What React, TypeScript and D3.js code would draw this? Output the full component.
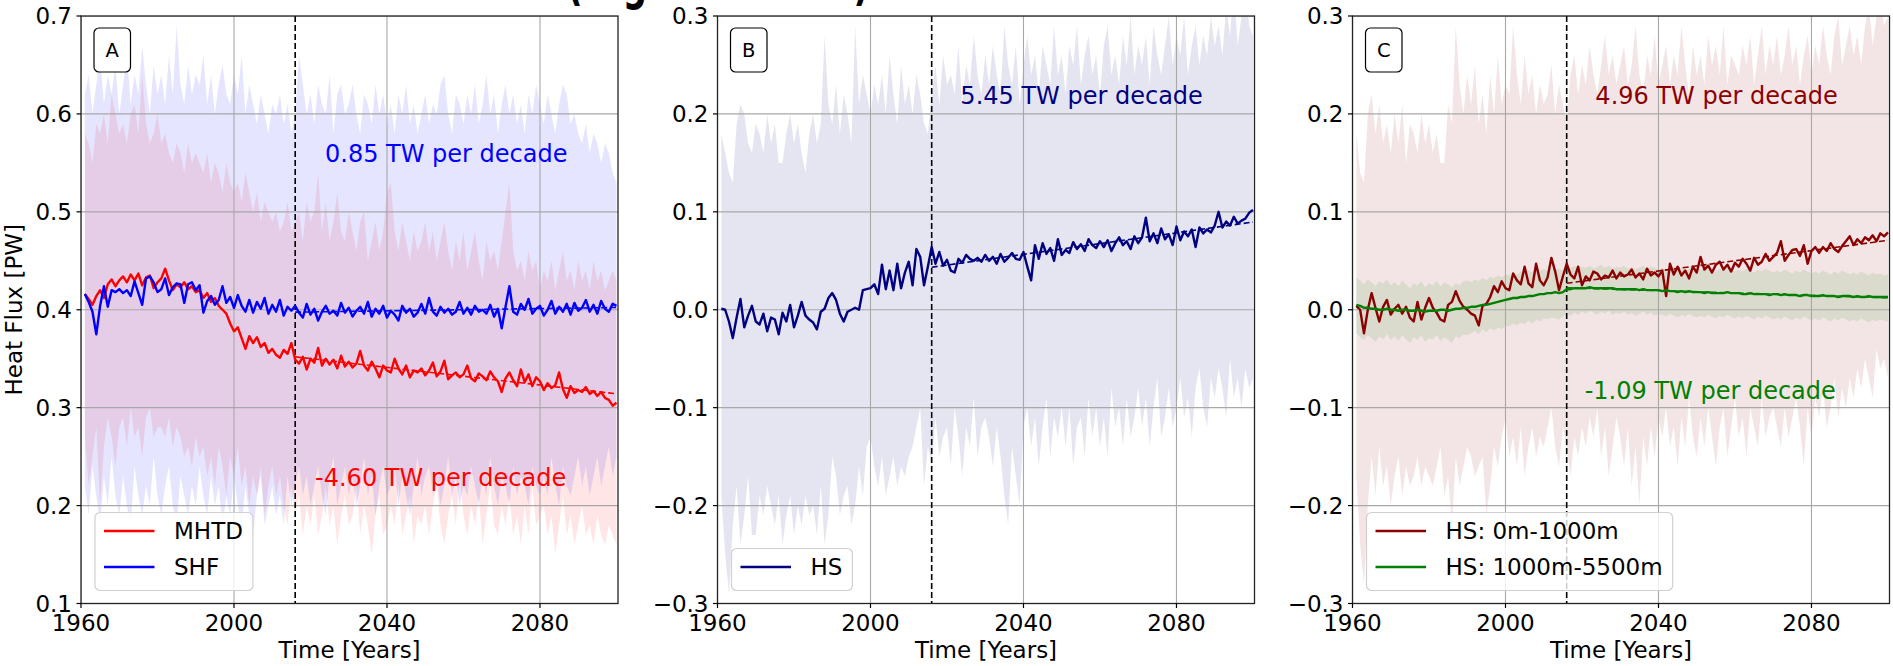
import React from 'react';
import * as d3 from 'd3';

// ---------------- DATA ----------------
const FIRST_YEAR = 1961;
const LAST_YEAR = 2100;
const SPLIT_YEAR = 2016;
const X_DOMAIN = [1960, 2100.4];
const xTicks = [1960, 2000, 2040, 2080];
const yTicksA = [0.1, 0.2, 0.3, 0.4, 0.5, 0.6, 0.7];
const yTicksBC = [-0.3, -0.2, -0.1, 0, 0.1, 0.2, 0.3];

const mhtd = [
  0.416, 0.411, 0.405, 0.414, 0.420, 0.412, 0.426, 0.431, 0.424, 0.430,
  0.434, 0.428, 0.436, 0.430, 0.437, 0.425, 0.433, 0.435, 0.422, 0.428,
  0.432, 0.442, 0.430, 0.420, 0.426, 0.423, 0.428, 0.421, 0.424, 0.418,
  0.420, 0.412, 0.417, 0.408, 0.412, 0.404, 0.400, 0.396, 0.386, 0.378,
  0.382, 0.371, 0.360, 0.373, 0.366, 0.372, 0.362, 0.366, 0.356, 0.360,
  0.354, 0.351, 0.359, 0.355, 0.366, 0.349, 0.345, 0.352, 0.339, 0.350,
  0.346, 0.361, 0.343, 0.350, 0.344, 0.349, 0.340, 0.353, 0.342, 0.347,
  0.341, 0.345, 0.358, 0.343, 0.338, 0.347, 0.340, 0.331, 0.343, 0.338,
  0.336, 0.350, 0.340, 0.334, 0.343, 0.331, 0.338, 0.336, 0.340, 0.333,
  0.338, 0.346, 0.332, 0.337, 0.348, 0.329, 0.333, 0.336, 0.331, 0.334,
  0.343, 0.330, 0.327, 0.335, 0.332, 0.328, 0.337, 0.331, 0.327, 0.316,
  0.330, 0.336, 0.328, 0.322, 0.339, 0.326, 0.334, 0.322, 0.331, 0.327,
  0.318, 0.325, 0.320, 0.323, 0.336, 0.319, 0.310, 0.322, 0.315, 0.318,
  0.316, 0.321, 0.314, 0.317, 0.312, 0.316, 0.310, 0.308, 0.302, 0.305,
];
const mhtdHi = [
  0.58, 0.57, 0.55, 0.59, 0.58, 0.60, 0.57, 0.62, 0.60, 0.58,
  0.59, 0.57, 0.60, 0.61, 0.58, 0.64, 0.59, 0.57, 0.58, 0.60,
  0.57, 0.58, 0.56, 0.55, 0.57, 0.56, 0.54, 0.57, 0.55, 0.56,
  0.55, 0.54, 0.56, 0.53, 0.55, 0.54, 0.52, 0.55, 0.53, 0.52,
  0.53, 0.51, 0.54, 0.52, 0.50, 0.52, 0.49, 0.51, 0.50, 0.49,
  0.50, 0.48, 0.49, 0.51, 0.48, 0.49, 0.50, 0.47, 0.51, 0.49,
  0.50, 0.54, 0.48, 0.51, 0.47, 0.49, 0.52, 0.48, 0.47, 0.50,
  0.48, 0.46, 0.49, 0.50, 0.45, 0.47, 0.49, 0.46, 0.48, 0.52,
  0.53, 0.48, 0.46, 0.49, 0.47, 0.45, 0.48, 0.46, 0.47, 0.49,
  0.46, 0.48, 0.45, 0.47, 0.49, 0.46, 0.44, 0.47, 0.45, 0.48,
  0.44, 0.46, 0.48, 0.45, 0.43, 0.47, 0.45, 0.46, 0.44, 0.47,
  0.50, 0.53, 0.46, 0.44, 0.45, 0.43, 0.46, 0.44, 0.45, 0.42,
  0.44, 0.43, 0.45, 0.42, 0.44, 0.46, 0.43, 0.44, 0.42, 0.45,
  0.43, 0.44, 0.42, 0.45, 0.43, 0.44, 0.42, 0.43, 0.44, 0.43,
];
const mhtdLo = [
  0.27, 0.22, 0.25, 0.28, 0.20, 0.26, 0.29, 0.27, 0.24, 0.28,
  0.29, 0.26, 0.30, 0.27, 0.28, 0.25, 0.29, 0.30, 0.27, 0.28,
  0.28, 0.27, 0.29, 0.26, 0.28, 0.27, 0.25, 0.26, 0.24, 0.27,
  0.25, 0.26, 0.23, 0.25, 0.22, 0.26, 0.24, 0.21, 0.25, 0.23,
  0.26, 0.22, 0.24, 0.20, 0.23, 0.21, 0.24, 0.19, 0.22, 0.24,
  0.21, 0.23, 0.20, 0.18, 0.22, 0.19, 0.21, 0.17, 0.20, 0.18,
  0.21, 0.17, 0.19, 0.22, 0.18, 0.20, 0.16, 0.19, 0.21, 0.18,
  0.19, 0.22, 0.17, 0.20, 0.18, 0.15, 0.19, 0.21, 0.17, 0.18,
  0.20, 0.18, 0.22, 0.17, 0.19, 0.21, 0.16, 0.19, 0.18, 0.20,
  0.17, 0.20, 0.22, 0.18, 0.16, 0.19, 0.21, 0.18, 0.23, 0.19,
  0.17, 0.20, 0.18, 0.21, 0.16, 0.19, 0.22, 0.18, 0.17, 0.20,
  0.18, 0.21, 0.17, 0.19, 0.16, 0.20, 0.17, 0.22, 0.18, 0.19,
  0.20, 0.17, 0.19, 0.15, 0.18, 0.21, 0.17, 0.19, 0.16, 0.18,
  0.20, 0.17, 0.18, 0.16, 0.19, 0.17, 0.16, 0.18, 0.17, 0.16,
];

const shf = [
  0.416, 0.408, 0.398, 0.375, 0.404, 0.424, 0.403, 0.420, 0.418, 0.421,
  0.417, 0.420, 0.414, 0.429, 0.417, 0.405, 0.432, 0.434, 0.428, 0.418,
  0.421, 0.432, 0.415, 0.423, 0.427, 0.426, 0.407, 0.426, 0.428, 0.420,
  0.425, 0.397, 0.409, 0.414, 0.405, 0.410, 0.424, 0.407, 0.413, 0.402,
  0.415, 0.404, 0.398, 0.410, 0.397, 0.408, 0.401, 0.412, 0.396, 0.405,
  0.398, 0.410, 0.394, 0.403, 0.399, 0.404, 0.397, 0.392, 0.406, 0.395,
  0.401, 0.389, 0.398, 0.404, 0.396, 0.399, 0.394, 0.407, 0.397, 0.402,
  0.393, 0.399, 0.403, 0.396, 0.408, 0.393, 0.401, 0.396, 0.404, 0.392,
  0.399, 0.395, 0.389, 0.404, 0.397, 0.401, 0.393, 0.397, 0.406, 0.396,
  0.412, 0.398, 0.394, 0.403, 0.397, 0.401, 0.395, 0.398, 0.408, 0.396,
  0.402, 0.395, 0.404, 0.398, 0.400, 0.396, 0.405, 0.393, 0.401, 0.381,
  0.403, 0.424, 0.398, 0.395, 0.406, 0.400, 0.411, 0.396, 0.401, 0.404,
  0.394, 0.400, 0.409, 0.396, 0.403, 0.398, 0.406, 0.395, 0.407, 0.399,
  0.402, 0.410, 0.398, 0.405, 0.396, 0.409, 0.401, 0.398, 0.406, 0.404,
];
const shfHi = [
  0.62, 0.64, 0.60, 0.63, 0.66, 0.61, 0.64, 0.62, 0.65, 0.60,
  0.63, 0.66, 0.61, 0.64, 0.62, 0.67, 0.63, 0.60, 0.65, 0.62,
  0.64, 0.61, 0.66, 0.62, 0.69, 0.63, 0.61, 0.65, 0.62, 0.64,
  0.63, 0.66, 0.61, 0.64, 0.60, 0.63, 0.65, 0.62, 0.61, 0.64,
  0.62, 0.66, 0.60, 0.63, 0.61, 0.59, 0.62, 0.60, 0.58, 0.61,
  0.60, 0.62, 0.59, 0.61, 0.58, 0.60, 0.66, 0.63, 0.60, 0.62,
  0.59, 0.63, 0.61, 0.60, 0.64, 0.58, 0.62, 0.63, 0.60, 0.61,
  0.63, 0.60, 0.58, 0.62, 0.61, 0.59, 0.63, 0.60, 0.62, 0.59,
  0.61, 0.58, 0.62, 0.60, 0.63, 0.59, 0.61, 0.58, 0.60, 0.62,
  0.59, 0.61, 0.60, 0.63, 0.64, 0.60, 0.58, 0.62, 0.61, 0.59,
  0.62, 0.60, 0.63, 0.59, 0.61, 0.64, 0.60, 0.62, 0.58, 0.61,
  0.63, 0.60, 0.62, 0.59, 0.61, 0.58, 0.62, 0.60, 0.63, 0.61,
  0.59, 0.62, 0.60, 0.58, 0.61, 0.63, 0.62, 0.59, 0.60, 0.58,
  0.57, 0.59, 0.56, 0.58, 0.57, 0.55, 0.57, 0.56, 0.54, 0.53,
];
const shfLo = [
  0.22, 0.19, 0.24, 0.21, 0.18, 0.23, 0.20, 0.25, 0.21, 0.19,
  0.23, 0.20, 0.18, 0.24, 0.21, 0.19, 0.22, 0.20, 0.25, 0.21,
  0.19, 0.22, 0.24, 0.20, 0.18, 0.23, 0.21, 0.19, 0.22, 0.20,
  0.24, 0.21, 0.19, 0.23, 0.20, 0.22, 0.18, 0.21, 0.19, 0.23,
  0.20, 0.18, 0.22, 0.19, 0.17, 0.21, 0.23, 0.18, 0.20, 0.22,
  0.19, 0.21, 0.18, 0.23, 0.20, 0.22, 0.24, 0.21, 0.23, 0.20,
  0.22, 0.24, 0.21, 0.19, 0.23, 0.25, 0.20, 0.22, 0.24, 0.21,
  0.23, 0.20, 0.22, 0.25, 0.21, 0.23, 0.19, 0.22, 0.24, 0.21,
  0.22, 0.24, 0.20, 0.23, 0.21, 0.19, 0.22, 0.25, 0.21, 0.23,
  0.24, 0.21, 0.23, 0.20, 0.22, 0.25, 0.21, 0.23, 0.20, 0.22,
  0.21, 0.24, 0.22, 0.20, 0.23, 0.21, 0.25, 0.22, 0.20, 0.23,
  0.22, 0.20, 0.24, 0.21, 0.23, 0.22, 0.20, 0.24, 0.22, 0.21,
  0.23, 0.21, 0.25, 0.22, 0.20, 0.24, 0.22, 0.21, 0.23, 0.25,
  0.22, 0.24, 0.21, 0.23, 0.25, 0.22, 0.24, 0.26, 0.23, 0.25,
];

const hs = [
  0.001, 0.000, -0.012, -0.029, -0.008, 0.011, -0.018, -0.006, 0.004, -0.012,
  -0.015, -0.004, -0.022, -0.008, -0.010, -0.025, -0.003, -0.012, 0.005, -0.018,
  -0.006, 0.008, -0.006, -0.010, -0.013, -0.020, -0.002, 0.001, 0.012, 0.017,
  0.010, -0.004, -0.012, -0.002, 0.000, 0.002, 0.000, 0.020, 0.021, 0.022,
  0.026, 0.016, 0.046, 0.021, 0.040, 0.020, 0.047, 0.022, 0.038, 0.049,
  0.025, 0.062, 0.054, 0.025, 0.044, 0.064, 0.047, 0.059, 0.045, 0.051,
  0.040, 0.038, 0.052, 0.048, 0.056, 0.052, 0.050, 0.053, 0.049, 0.056,
  0.050, 0.054, 0.047, 0.057, 0.049, 0.053, 0.058, 0.052, 0.051, 0.059,
  0.044, 0.030, 0.066, 0.052, 0.068, 0.057, 0.063, 0.050, 0.072, 0.056,
  0.061, 0.058, 0.069, 0.062, 0.067, 0.060, 0.072, 0.066, 0.063, 0.070,
  0.064, 0.071, 0.060, 0.068, 0.074, 0.066, 0.070, 0.062, 0.075, 0.068,
  0.074, 0.094, 0.070, 0.078, 0.068, 0.083, 0.072, 0.077, 0.066, 0.085,
  0.071, 0.080, 0.075, 0.082, 0.064, 0.084, 0.078, 0.082, 0.079, 0.086,
  0.100, 0.084, 0.090, 0.086, 0.095, 0.088, 0.091, 0.093, 0.099, 0.102,
];
const hsHi = [
  0.18, 0.16, 0.14, 0.13, 0.19, 0.21, 0.20, 0.17, 0.16, 0.19,
  0.18, 0.16, 0.20, 0.17, 0.19, 0.15, 0.15, 0.18, 0.20, 0.17,
  0.19, 0.16, 0.14, 0.18, 0.20, 0.17, 0.19, 0.28, 0.21, 0.19,
  0.23, 0.18, 0.22, 0.20, 0.17, 0.29, 0.21, 0.24, 0.22, 0.20,
  0.23, 0.21, 0.24, 0.20, 0.26, 0.22, 0.19, 0.25, 0.21, 0.23,
  0.20, 0.24, 0.22, 0.19, 0.18, 0.22, 0.25, 0.21, 0.26, 0.23,
  0.24, 0.22, 0.27, 0.21, 0.25, 0.23, 0.28, 0.24, 0.22, 0.26,
  0.23, 0.27, 0.24, 0.22, 0.29, 0.25, 0.23, 0.27, 0.21, 0.25,
  0.28, 0.24, 0.26, 0.22, 0.27, 0.25, 0.23, 0.29, 0.24, 0.26,
  0.22, 0.27, 0.25, 0.29, 0.23, 0.26, 0.28, 0.24, 0.26, 0.22,
  0.27, 0.29, 0.24, 0.26, 0.23, 0.28, 0.25, 0.30, 0.24, 0.27,
  0.25, 0.28, 0.23, 0.29, 0.26, 0.24, 0.27, 0.30, 0.25, 0.28,
  0.26, 0.30, 0.24, 0.27, 0.29, 0.25, 0.28, 0.26, 0.30, 0.27,
  0.29, 0.26, 0.31, 0.28, 0.33, 0.27, 0.30, 0.34, 0.29, 0.28,
];
const hsLo = [
  -0.19, -0.25, -0.29, -0.22, -0.18, -0.24, -0.21, -0.17, -0.23, -0.23,
  -0.19, -0.21, -0.18, -0.20, -0.22, -0.19, -0.24, -0.21, -0.19, -0.23,
  -0.20, -0.22, -0.19, -0.21, -0.20, -0.23, -0.18, -0.24, -0.21, -0.15,
  -0.17, -0.21, -0.19, -0.18, -0.22, -0.20, -0.16, -0.19, -0.14, -0.13,
  -0.16, -0.18, -0.15, -0.19, -0.17, -0.15, -0.18, -0.16, -0.17, -0.15,
  -0.14, -0.12, -0.10, -0.18, -0.14, -0.16, -0.11, -0.15, -0.13, -0.12,
  -0.16, -0.10, -0.13, -0.17, -0.12, -0.14, -0.09, -0.15, -0.12, -0.11,
  -0.13, -0.16, -0.12, -0.15, -0.19, -0.22, -0.14, -0.17, -0.20, -0.12,
  -0.10, -0.14, -0.11, -0.16, -0.12, -0.09, -0.15, -0.11, -0.13, -0.10,
  -0.14, -0.10, -0.16, -0.12, -0.11, -0.15, -0.09, -0.13, -0.10, -0.14,
  -0.11, -0.15, -0.08, -0.12, -0.10, -0.14, -0.09, -0.13, -0.11, -0.08,
  -0.12, -0.09, -0.14, -0.10, -0.07, -0.13, -0.11, -0.08, -0.12, -0.10,
  -0.07, -0.11, -0.09, -0.13, -0.08, -0.06, -0.10, -0.12, -0.07, -0.09,
  -0.06, -0.08, -0.11, -0.05, -0.09, -0.07, -0.10, -0.06, -0.08, -0.07,
];

const hsUpper = [
  0.004, 0.000, -0.024, 0.000, 0.017, 0.002, -0.012, 0.003, 0.010, -0.005,
  0.001, 0.005, -0.004, 0.003, -0.008, -0.012, 0.008, -0.010, 0.002, 0.012,
  0.002, -0.003, -0.010, -0.012, 0.005, 0.008, 0.019, 0.009, 0.003, 0.000,
  -0.004, -0.006, -0.016, 0.004, 0.006, 0.013, 0.024, 0.018, 0.029, 0.022,
  0.020, 0.037, 0.030, 0.026, 0.044, 0.027, 0.023, 0.047, 0.030, 0.025,
  0.033, 0.053, 0.039, 0.020, 0.034, 0.047, 0.036, 0.032, 0.044, 0.025,
  0.034, 0.030, 0.039, 0.037, 0.031, 0.035, 0.033, 0.040, 0.032, 0.038,
  0.034, 0.036, 0.041, 0.033, 0.037, 0.031, 0.042, 0.035, 0.038, 0.034,
  0.040, 0.014, 0.047, 0.036, 0.044, 0.035, 0.040, 0.032, 0.044, 0.038,
  0.054, 0.041, 0.045, 0.038, 0.046, 0.049, 0.041, 0.046, 0.039, 0.048,
  0.044, 0.052, 0.047, 0.040, 0.053, 0.046, 0.049, 0.057, 0.050, 0.054,
  0.058, 0.070, 0.050, 0.056, 0.061, 0.062, 0.055, 0.066, 0.047, 0.060,
  0.064, 0.058, 0.064, 0.060, 0.068, 0.062, 0.059, 0.065, 0.070, 0.075,
  0.066, 0.072, 0.068, 0.074, 0.071, 0.076, 0.070, 0.078, 0.075, 0.079,
];
const hsUpperHi = [
  0.18, 0.14, 0.13, 0.20, 0.22, 0.18, 0.21, 0.17, 0.19, 0.16,
  0.20, 0.17, 0.21, 0.15, 0.19, 0.18, 0.16, 0.20, 0.17, 0.19,
  0.16, 0.18, 0.15, 0.15, 0.21, 0.19, 0.29, 0.23, 0.20, 0.24,
  0.21, 0.25, 0.19, 0.22, 0.18, 0.24, 0.20, 0.26, 0.21, 0.23,
  0.22, 0.29, 0.24, 0.21, 0.26, 0.22, 0.24, 0.20, 0.23, 0.21,
  0.22, 0.25, 0.20, 0.23, 0.21, 0.19, 0.24, 0.26, 0.22, 0.25,
  0.23, 0.27, 0.24, 0.22, 0.25, 0.28, 0.24, 0.26, 0.23, 0.25,
  0.27, 0.23, 0.25, 0.29, 0.24, 0.22, 0.26, 0.24, 0.28, 0.23,
  0.25, 0.27, 0.23, 0.26, 0.24, 0.29, 0.25, 0.22, 0.27, 0.24,
  0.26, 0.23, 0.28, 0.25, 0.27, 0.24, 0.29, 0.23, 0.26, 0.25,
  0.24, 0.27, 0.25, 0.28, 0.23, 0.26, 0.29, 0.24, 0.27, 0.25,
  0.28, 0.24, 0.26, 0.29, 0.25, 0.27, 0.23, 0.26, 0.28, 0.24,
  0.27, 0.25, 0.29, 0.26, 0.24, 0.28, 0.30, 0.25, 0.27, 0.29,
  0.26, 0.28, 0.25, 0.29, 0.31, 0.27, 0.30, 0.32, 0.29, 0.30,
];
const hsUpperLo = [
  -0.17, -0.24, -0.28, -0.20, -0.15, -0.19, -0.14, -0.18, -0.16, -0.20,
  -0.17, -0.15, -0.19, -0.16, -0.18, -0.17, -0.15, -0.18, -0.16, -0.17,
  -0.18, -0.16, -0.14, -0.19, -0.17, -0.22, -0.15, -0.18, -0.16, -0.14,
  -0.15, -0.17, -0.16, -0.15, -0.21, -0.18, -0.14, -0.16, -0.13, -0.11,
  -0.15, -0.13, -0.16, -0.12, -0.17, -0.14, -0.12, -0.15, -0.13, -0.14,
  -0.12, -0.10, -0.14, -0.16, -0.12, -0.14, -0.17, -0.13, -0.15, -0.12,
  -0.14, -0.11, -0.13, -0.10, -0.15, -0.12, -0.17, -0.14, -0.11, -0.13,
  -0.16, -0.12, -0.18, -0.14, -0.20, -0.13, -0.16, -0.12, -0.15, -0.11,
  -0.13, -0.10, -0.14, -0.12, -0.16, -0.11, -0.14, -0.09, -0.13, -0.15,
  -0.11, -0.14, -0.10, -0.13, -0.16, -0.12, -0.10, -0.15, -0.12, -0.09,
  -0.13, -0.11, -0.15, -0.10, -0.12, -0.14, -0.09, -0.13, -0.11, -0.10,
  -0.12, -0.14, -0.10, -0.13, -0.11, -0.09, -0.12, -0.16, -0.10, -0.13,
  -0.09, -0.11, -0.08, -0.12, -0.10, -0.07, -0.11, -0.08, -0.10, -0.07,
  -0.09, -0.06, -0.08, -0.05, -0.07, -0.09, -0.04, -0.06, -0.05, -0.07,
];

const hsDeep = [
  0.005, 0.004, 0.002, 0.002, 0.001, 0.001, 0.000, 0.000, 0.001, 0.000,
  0.000, -0.001, 0.000, 0.000, -0.001, -0.001, 0.000, -0.001, -0.002, -0.001,
  -0.001, -0.001, 0.000, 0.000, -0.001, 0.000, 0.001, 0.001, 0.002, 0.002,
  0.003, 0.003, 0.004, 0.005, 0.005, 0.006, 0.007, 0.008, 0.009, 0.010,
  0.011, 0.012, 0.012, 0.013, 0.013, 0.014, 0.014, 0.015, 0.016, 0.016,
  0.017, 0.017, 0.018, 0.017, 0.018, 0.021, 0.021, 0.022, 0.022, 0.022,
  0.022, 0.023, 0.022, 0.022, 0.022, 0.022, 0.022, 0.022, 0.021, 0.021,
  0.021, 0.021, 0.021, 0.021, 0.020, 0.021, 0.020, 0.020, 0.020, 0.020,
  0.019, 0.020, 0.019, 0.019, 0.018, 0.019, 0.018, 0.019, 0.018, 0.018,
  0.018, 0.017, 0.018, 0.017, 0.017, 0.017, 0.017, 0.018, 0.017, 0.017,
  0.017, 0.016, 0.016, 0.017, 0.016, 0.016, 0.016, 0.016, 0.015, 0.016,
  0.016, 0.015, 0.016, 0.015, 0.015, 0.015, 0.014, 0.015, 0.015, 0.014,
  0.014, 0.014, 0.015, 0.014, 0.014, 0.014, 0.013, 0.014, 0.014, 0.014,
  0.013, 0.014, 0.013, 0.013, 0.014, 0.013, 0.013, 0.013, 0.013, 0.013,
];
const hsDeepHi = [
  0.033, 0.030, 0.026, 0.031, 0.028, 0.024, 0.029, 0.027, 0.031, 0.025,
  0.028, 0.024, 0.030, 0.026, 0.022, 0.027, 0.025, 0.029, 0.023, 0.027,
  0.025, 0.029, 0.024, 0.028, 0.026, 0.023, 0.027, 0.025, 0.029, 0.030,
  0.028, 0.031, 0.029, 0.033, 0.030, 0.034, 0.032, 0.035, 0.033, 0.036,
  0.035, 0.038, 0.036, 0.039, 0.037, 0.040, 0.038, 0.041, 0.039, 0.042,
  0.040, 0.043, 0.041, 0.042, 0.040, 0.044, 0.043, 0.045, 0.042, 0.044,
  0.043, 0.045, 0.042, 0.044, 0.046, 0.043, 0.045, 0.042, 0.044, 0.043,
  0.045, 0.042, 0.044, 0.041, 0.043, 0.045, 0.042, 0.044, 0.043, 0.041,
  0.043, 0.040, 0.042, 0.044, 0.041, 0.043, 0.040, 0.042, 0.044, 0.041,
  0.042, 0.040, 0.043, 0.041, 0.039, 0.042, 0.040, 0.043, 0.041, 0.039,
  0.041, 0.039, 0.042, 0.040, 0.038, 0.041, 0.039, 0.042, 0.040, 0.038,
  0.040, 0.038, 0.041, 0.039, 0.037, 0.040, 0.038, 0.041, 0.039, 0.037,
  0.039, 0.037, 0.040, 0.038, 0.036, 0.039, 0.037, 0.040, 0.038, 0.036,
  0.038, 0.036, 0.039, 0.037, 0.035, 0.038, 0.036, 0.037, 0.035, 0.036,
];
const hsDeepLo = [
  -0.024, -0.028, -0.031, -0.026, -0.029, -0.033, -0.027, -0.030, -0.025, -0.031,
  -0.027, -0.032, -0.026, -0.030, -0.034, -0.028, -0.031, -0.026, -0.033, -0.029,
  -0.030, -0.026, -0.032, -0.028, -0.031, -0.034, -0.027, -0.029, -0.025, -0.026,
  -0.024, -0.022, -0.025, -0.020, -0.023, -0.019, -0.021, -0.018, -0.020, -0.016,
  -0.017, -0.014, -0.016, -0.013, -0.015, -0.011, -0.014, -0.010, -0.012, -0.009,
  -0.010, -0.008, -0.009, -0.010, -0.007, -0.004, -0.006, -0.003, -0.005, -0.002,
  -0.004, -0.001, -0.003, -0.005, -0.002, -0.004, -0.001, -0.005, -0.003, -0.004,
  -0.002, -0.005, -0.003, -0.006, -0.004, -0.002, -0.005, -0.003, -0.006, -0.004,
  -0.005, -0.007, -0.004, -0.006, -0.008, -0.005, -0.007, -0.004, -0.006, -0.008,
  -0.006, -0.008, -0.005, -0.007, -0.009, -0.006, -0.008, -0.005, -0.007, -0.009,
  -0.007, -0.009, -0.006, -0.008, -0.010, -0.007, -0.009, -0.006, -0.008, -0.010,
  -0.008, -0.010, -0.007, -0.009, -0.011, -0.008, -0.010, -0.007, -0.009, -0.011,
  -0.009, -0.011, -0.008, -0.010, -0.012, -0.009, -0.011, -0.008, -0.010, -0.012,
  -0.010, -0.012, -0.009, -0.011, -0.013, -0.010, -0.012, -0.010, -0.011, -0.012,
];

const trendLabels = ['0.85 TW per decade', '-4.60 TW per decade', '5.45 TW per decade', '4.96 TW per decade', '-1.09 TW per decade'];

// ---------------- LAYOUT ----------------
const W = 1893;
const H = 666;
const TOP = 16;
const BOTTOM = 603.5;
const PW = 537;
const LEFTS = [81, 717.5, 1352.5];
const FONT = '"DejaVu Sans", "Liberation Sans", sans-serif';
const TICK_FS = 23;
const ANN_FS = 24;

const years = d3.range(FIRST_YEAR, LAST_YEAR + 1);

type Series = { name: string; color: string; values: number[]; lo: number[]; hi: number[] };
type Ann = { text: string; color: string; x: number; y: number };
type PanelCfg = { label: string; yDomain: number[]; yTicks: number[]; series: Series[]; anns: Ann[] };

const panels: PanelCfg[] = [
  {
    label: 'A', yDomain: [0.1, 0.7], yTicks: yTicksA,
    series: [
      { name: 'MHTD', color: '#ff0000', values: mhtd, lo: mhtdLo, hi: mhtdHi },
      { name: 'SHF', color: '#0000ff', values: shf, lo: shfLo, hi: shfHi },
    ],
    anns: [
      { text: trendLabels[0], color: '#0000ff', x: 2023.8, y: 0.551 },
      { text: trendLabels[1], color: '#ff0000', x: 2021.2, y: 0.22 },
    ],
  },
  {
    label: 'B', yDomain: [-0.3, 0.3], yTicks: yTicksBC,
    series: [{ name: 'HS', color: '#000080', values: hs, lo: hsLo, hi: hsHi }],
    anns: [{ text: trendLabels[2], color: '#000080', x: 2023.5, y: 0.21 }],
  },
  {
    label: 'C', yDomain: [-0.3, 0.3], yTicks: yTicksBC,
    series: [
      { name: 'HS: 0m-1000m', color: '#8b0000', values: hsUpper, lo: hsUpperLo, hi: hsUpperHi },
      { name: 'HS: 1000m-5500m', color: '#008000', values: hsDeep, lo: hsDeepLo, hi: hsDeepHi },
    ],
    anns: [
      { text: trendLabels[3], color: '#8b0000', x: 2023.5, y: 0.21 },
      { text: trendLabels[4], color: '#008000', x: 2020.7, y: -0.091 },
    ],
  },
];

function textWidth(t: string, size: number) {
  const ctx = document.createElement('canvas').getContext('2d');
  if (!ctx) return t.length * size * 0.6;
  ctx.font = `${size}px ${FONT}`;
  return ctx.measureText(t).width;
}

function trend(vals: number[]) {
  const pts = years.map((yr, i) => [yr, vals[i]]).filter((p) => p[0] >= SPLIT_YEAR);
  const mx = d3.mean(pts, (p) => p[0]) as number;
  const my = d3.mean(pts, (p) => p[1]) as number;
  const slope = d3.sum(pts, (p) => (p[0] - mx) * (p[1] - my)) / d3.sum(pts, (p) => (p[0] - mx) ** 2);
  return [SPLIT_YEAR, LAST_YEAR].map((yr) => [yr, my + slope * (yr - mx)]);
}

const fmt = d3.format('.1f');

function Panel({ cfg, left, idx }: { cfg: PanelCfg; left: number; idx: number }) {
  const x = d3.scaleLinear().domain(X_DOMAIN).range([left, left + PW]);
  const y = d3.scaleLinear().domain(cfg.yDomain).range([BOTTOM, TOP]);
  const clipId = `clip${idx}`;
  const area = (lo: number[], hi: number[]) =>
    d3.area<number>().x((_, i) => x(years[i])).y0((_, i) => y(lo[i])).y1((_, i) => y(hi[i]))(years) || '';
  const line = (v: number[]) => d3.line<number>().x((_, i) => x(years[i])).y((_, i) => y(v[i]))(years) || '';
  const tline = d3.line<number[]>().x((p) => x(p[0])).y((p) => y(p[1]));

  const legendFs = TICK_FS;
  const maxW = d3.max(cfg.series, (s) => textWidth(s.name, legendFs)) as number;
  const lgLeft = left + 14;
  const rowGap = 36;
  const lastRow = BOTTOM - 36.5;
  const firstRow = lastRow - rowGap * (cfg.series.length - 1);
  const lgTop = firstRow - 18.5;
  const lgH = lastRow + 23.5 - lgTop;
  const lgW = 79 + maxW + 10;

  return (
    <g>
      <defs>
        <clipPath id={clipId}>
          <rect x={left} y={TOP} width={PW} height={BOTTOM - TOP} />
        </clipPath>
      </defs>
      <g clipPath={`url(#${clipId})`}>
        {cfg.series.map((s) => (
          <path key={s.name + 'band'} d={area(s.lo, s.hi)} fill={s.color} fillOpacity={0.1} stroke="none" />
        ))}
        {xTicks.map((t) => (
          <line key={'gx' + t} x1={x(t)} x2={x(t)} y1={TOP} y2={BOTTOM} stroke="#a8a8a8" strokeWidth={1.1} />
        ))}
        {cfg.yTicks.map((t) => (
          <line key={'gy' + t} x1={left} x2={left + PW} y1={y(t)} y2={y(t)} stroke="#a8a8a8" strokeWidth={1.1} />
        ))}
        <line x1={x(SPLIT_YEAR)} x2={x(SPLIT_YEAR)} y1={TOP} y2={BOTTOM} stroke="#000" strokeWidth={1.6} strokeDasharray="6,3" />
        {cfg.series.map((s) => (
          <path key={s.name + 'line'} d={line(s.values)} fill="none" stroke={s.color} strokeWidth={2.4} strokeLinejoin="round" />
        ))}
        {cfg.series.map((s) => (
          <path key={s.name + 'trend'} d={tline(trend(s.values)) || ''} fill="none" stroke={s.color} strokeWidth={1.6} strokeDasharray="6,3" />
        ))}
      </g>
      {cfg.anns.map((a) => (
        <text key={a.text} x={x(a.x)} y={y(a.y)} fill={a.color} fontSize={ANN_FS} fontFamily={FONT}>
          {a.text}
        </text>
      ))}
      {/* legend */}
      <rect x={lgLeft} y={lgTop} width={lgW} height={lgH} rx={5} fill="#fff" fillOpacity={0.8} stroke="#d0d0d0" strokeWidth={1.2} />
      {cfg.series.map((s, i) => {
        const ry = firstRow + i * rowGap;
        return (
          <g key={s.name + 'lg'}>
            <line x1={lgLeft + 9} x2={lgLeft + 59.5} y1={ry} y2={ry} stroke={s.color} strokeWidth={2.4} />
            <text x={lgLeft + 79} y={ry} dy="0.36em" fontSize={legendFs} fontFamily={FONT} fill="#000">
              {s.name}
            </text>
          </g>
        );
      })}
      {/* panel label */}
      <rect x={left + 13} y={28} width={36.5} height={44} rx={5} fill="#fff" stroke="#000" strokeWidth={1.2} />
      <text x={left + 31.25} y={50} dy="0.36em" textAnchor="middle" fontSize={19.5} fontFamily={FONT} fill="#000">
        {cfg.label}
      </text>
      {/* axes frame */}
      <rect x={left} y={TOP} width={PW} height={BOTTOM - TOP} fill="none" stroke="#222" strokeWidth={1.3} />
      {xTicks.map((t) => (
        <g key={'xt' + t}>
          <line x1={x(t)} x2={x(t)} y1={BOTTOM} y2={BOTTOM + 4.5} stroke="#000" strokeWidth={1.2} />
          <text x={x(t)} y={630.5} textAnchor="middle" fontSize={TICK_FS} fontFamily={FONT} fill="#000">
            {t}
          </text>
        </g>
      ))}
      {cfg.yTicks.map((t) => (
        <g key={'yt' + t}>
          <line x1={left - 4.5} x2={left} y1={y(t)} y2={y(t)} stroke="#000" strokeWidth={1.2} />
          <text x={left - 9} y={y(t)} dy="0.36em" textAnchor="end" fontSize={TICK_FS} fontFamily={FONT} fill="#000">
            {fmt(t)}
          </text>
        </g>
      ))}
      <text x={left + PW / 2} y={658} textAnchor="middle" fontSize={TICK_FS} fontFamily={FONT} fill="#000">
        Time [Years]
      </text>
    </g>
  );
}

export default function App() {
  return (
    <svg
      width={W}
      height={H}
      viewBox={`0 0 ${W} ${H}`}
      style={{ position: 'absolute', left: 0, top: 0, background: '#fff' }}
    >
      <rect x={0} y={0} width={W} height={H} fill="#fff" />
      <text x={567} y={-1} fontSize={52} fontWeight="bold" fontFamily={FONT} textLength={302} lengthAdjust="spacingAndGlyphs" fill="#000">
        (High Emission)
      </text>
      <text
        transform={`translate(22, ${(TOP + BOTTOM) / 2}) rotate(-90)`}
        textAnchor="middle"
        fontSize={TICK_FS}
        fontFamily={FONT}
        fill="#000"
      >
        Heat Flux [PW]
      </text>
      {panels.map((p, i) => (
        <Panel key={p.label} cfg={p} left={LEFTS[i]} idx={i} />
      ))}
    </svg>
  );
}
